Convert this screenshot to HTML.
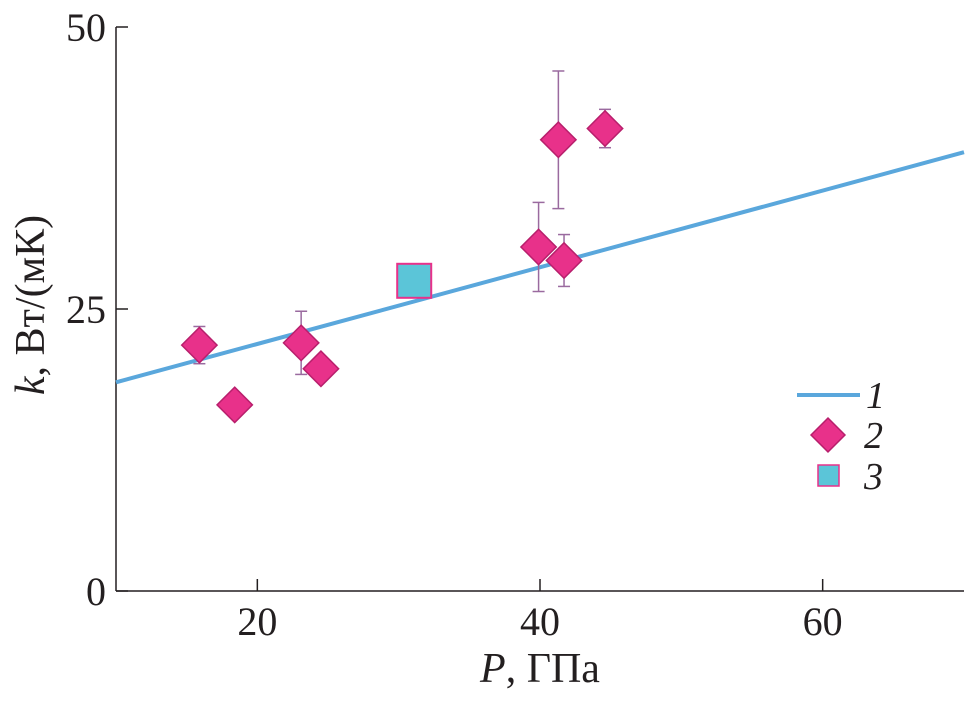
<!DOCTYPE html>
<html><head><meta charset="utf-8"><style>
html,body{margin:0;padding:0;background:#fff}
svg text{font-family:"Liberation Serif",serif;fill:#231f20}
</style></head><body>
<svg id="chart" width="974" height="698" viewBox="0 0 974 698" xmlns="http://www.w3.org/2000/svg">
<g id="axes"></g>
<g id="marks"></g>
<g id="legend">
  <line x1="797" y1="395" x2="860" y2="395" stroke="#5aa7dc" stroke-width="4"/>
  <text x="866" y="408" font-size="38" font-style="italic">1</text>
  <rect x="816" y="423" width="24" height="24" transform="rotate(45 828 435)" fill="#e8318a" stroke="#b81f6c" stroke-width="1.5"/>
  <text x="864" y="448" font-size="38" font-style="italic">2</text>
  <rect x="818" y="465" width="21" height="21" fill="#5bc5d8" stroke="#e8318a" stroke-width="1.5"/>
  <text x="864" y="489" font-size="38" font-style="italic">3</text>
</g>
</svg>
<script>
const xTicks=[20,40,60];
const yTicks=[0,25,50];
const lineX=[10,70];
const lineY=[18.5,38.9];
const diaX=[15.9,18.4,23.1,24.5,39.9,41.3,41.7,44.6];
const diaY=[21.8,16.5,22.0,19.7,30.5,40.0,29.3,41.0];
const diaErr=[1.65,0.6,2.8,0,3.95,6.1,2.3,1.7];
const sqX=[31.1];
const sqY=[27.5];
const X0=116,X1=964,Y0=591,Y1=27;
const sx=v=>X0+(v-10)/60*(X1-X0);
const sy=v=>Y0-(v/50)*(Y0-Y1);
const NS="http://www.w3.org/2000/svg";
function mk(p,t,a){const e=document.createElementNS(NS,t);for(const k in a)e.setAttribute(k,a[k]);p.appendChild(e);return e;}
const ax=document.getElementById('axes'),mg=document.getElementById('marks');
let e=mk(ax,'line',{x1:X0,y1:Y0,x2:X1,y2:Y0,stroke:'#231f20','stroke-width':1.5});


e=mk(ax,'line',{x1:X0,y1:Y0,x2:X0,y2:Y1,stroke:'#231f20','stroke-width':1.5});


xTicks.forEach(v=>{
  const t=mk(ax,'line',{x1:sx(v),y1:Y0,x2:sx(v),y2:Y0-12,stroke:'#231f20','stroke-width':1.5});
  
  
  const l=mk(ax,'text',{x:sx(v),y:Y0+44,'text-anchor':'middle','font-size':40});
  l.textContent=v;
  
  
});
yTicks.forEach(v=>{
  const t=mk(ax,'line',{x1:X0,y1:sy(v),x2:X0+12,y2:sy(v),stroke:'#231f20','stroke-width':1.5});
  
  
  const l=mk(ax,'text',{x:X0-10,y:sy(v)+14,'text-anchor':'end','font-size':40});
  l.textContent=v;
  
  
});
let xt=mk(ax,'text',{x:540,y:682,'text-anchor':'middle','font-size':42});
xt.innerHTML='<tspan font-style="italic">P</tspan>, ГПа';


let yt=mk(ax,'text',{x:0,y:0,'text-anchor':'middle','font-size':42,transform:'translate(44,305) rotate(-90)'});
yt.innerHTML='<tspan font-style="italic">k</tspan>, Вт/(мК)';


let ln=mk(mg,'line',{x1:sx(lineX[0]),y1:sy(lineY[0]),x2:sx(lineX[1]),y2:sy(lineY[1]),stroke:'#5aa7dc','stroke-width':4});


diaX.forEach((x,i)=>{
  const cx=sx(x),cy=sy(diaY[i]),er=diaErr[i];
  if(er>0){
    const g=mk(mg,'g',{stroke:'#9a6a9f','stroke-width':1.5});
    
    
    mk(g,'line',{x1:cx,y1:sy(diaY[i]+er),x2:cx,y2:sy(diaY[i]-er)});
    mk(g,'line',{x1:cx-6,y1:sy(diaY[i]+er),x2:cx+6,y2:sy(diaY[i]+er)});
    mk(g,'line',{x1:cx-6,y1:sy(diaY[i]-er),x2:cx+6,y2:sy(diaY[i]-er)});
  }
});
sqX.forEach((x,i)=>{
  const cx=sx(x),cy=sy(sqY[i]);
  const r=mk(mg,'rect',{x:cx-17,y:cy-17,width:34,height:34,fill:'#5bc5d8',stroke:'#e8318a','stroke-width':2});
  
  
});
diaX.forEach((x,i)=>{
  const cx=sx(x),cy=sy(diaY[i]);
  const d=mk(mg,'rect',{x:cx-12.5,y:cy-12.5,width:25,height:25,transform:`rotate(45 ${cx} ${cy})`,fill:'#e8318a',stroke:'#b81f6c','stroke-width':1.5});
  
  
});
</script>
</body></html>
